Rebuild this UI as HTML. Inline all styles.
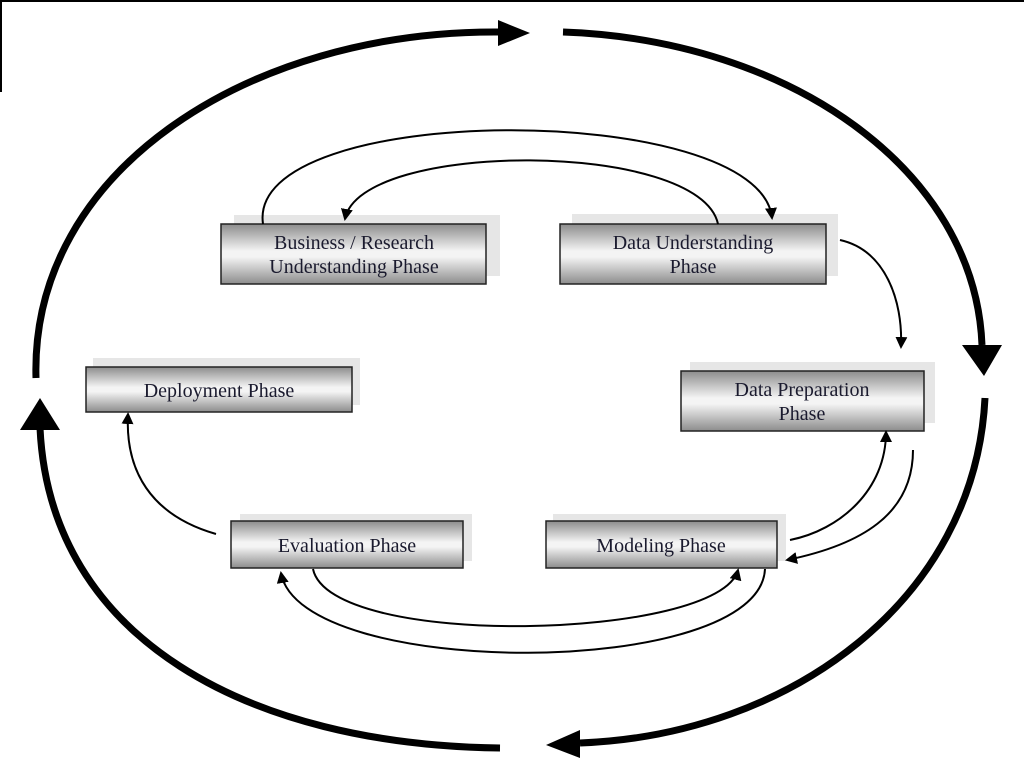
<!DOCTYPE html>
<html><head><meta charset="utf-8"><style>
html,body{margin:0;padding:0;background:#fff;}
svg{display:block;}
text{font-family:"Liberation Serif",serif;font-size:20px;fill:#1a1a2e;text-anchor:middle;}
</style></head><body>
<svg width="1024" height="768" viewBox="0 0 1024 768" xmlns="http://www.w3.org/2000/svg">
<defs>
<linearGradient id="g" x1="0" y1="0" x2="0" y2="1">
<stop offset="0" stop-color="#8c8c8c"/>
<stop offset="0.45" stop-color="#f4f4f4"/>
<stop offset="0.55" stop-color="#f4f4f4"/>
<stop offset="1" stop-color="#8c8c8c"/>
</linearGradient>
<marker id="a" markerWidth="12" markerHeight="12" refX="10" refY="6" orient="auto" markerUnits="userSpaceOnUse">
<path d="M0,0 L12,6 L0,12 Z" fill="#000"/>
</marker>
</defs>
<line x1="0" y1="1" x2="1024" y2="1" stroke="#000" stroke-width="2"/>
<line x1="1" y1="0" x2="1" y2="92" stroke="#000" stroke-width="2"/>

<g fill="none" stroke="#000" stroke-width="7">
<path d="M36 378 C 30 170, 250 30, 500 32"/>
<path d="M563 32 C 790 40, 975 170, 982 345"/>
<path d="M985 398 C 975 600, 790 735, 580 743"/>
<path d="M500 748 C 250 745, 50 640, 40 428"/>
</g>
<polygon points="498,20 530,33 498,46" fill="#000"/>
<polygon points="962,345 1002,345 984,376" fill="#000"/>
<polygon points="580,730 580,758 546,745" fill="#000"/>
<polygon points="20,430 60,430 40,398" fill="#000"/>

<g fill="#e6e6e6">
<rect x="234" y="215" width="266" height="61"/>
<rect x="572" y="214" width="266" height="62"/>
<rect x="93" y="358" width="267" height="47"/>
<rect x="690" y="362" width="245" height="61"/>
<rect x="240" y="514" width="232" height="47"/>
<rect x="553" y="514" width="233" height="47"/>
</g>
<g fill="url(#g)" stroke="#222" stroke-width="1.5">
<rect x="221" y="224" width="265" height="60"/>
<rect x="560" y="224" width="266" height="60"/>
<rect x="86" y="367" width="266" height="45"/>
<rect x="681" y="371" width="243" height="60"/>
<rect x="231" y="521" width="232" height="47"/>
<rect x="546" y="521" width="231" height="47"/>
</g>
<text x="354" y="249">Business / Research</text>
<text x="354" y="273">Understanding Phase</text>
<text x="693" y="249">Data Understanding</text>
<text x="693" y="273">Phase</text>
<text x="219" y="397">Deployment Phase</text>
<text x="802" y="396">Data Preparation</text>
<text x="802" y="420">Phase</text>
<text x="347" y="552">Evaluation Phase</text>
<text x="661" y="552">Modeling Phase</text>

<g fill="none" stroke="#000" stroke-width="2" marker-end="url(#a)">
<path d="M263 224 C 245 100, 760 100, 772 218"/>
<path d="M718 224 C 700 140, 360 140, 345 219"/>
<path d="M840 240 C 885 250, 903 300, 901 347"/>
<path d="M913 450 C 913 515, 860 545, 787 560"/>
<path d="M790 540 C 840 530, 886 490, 886 432"/>
<path d="M765 569 C 760 680, 300 680, 281 573"/>
<path d="M313 569 C 330 650, 720 640, 738 570"/>
<path d="M216 534 C 150 515, 125 470, 128 414"/>
</g>
</svg>
</body></html>
